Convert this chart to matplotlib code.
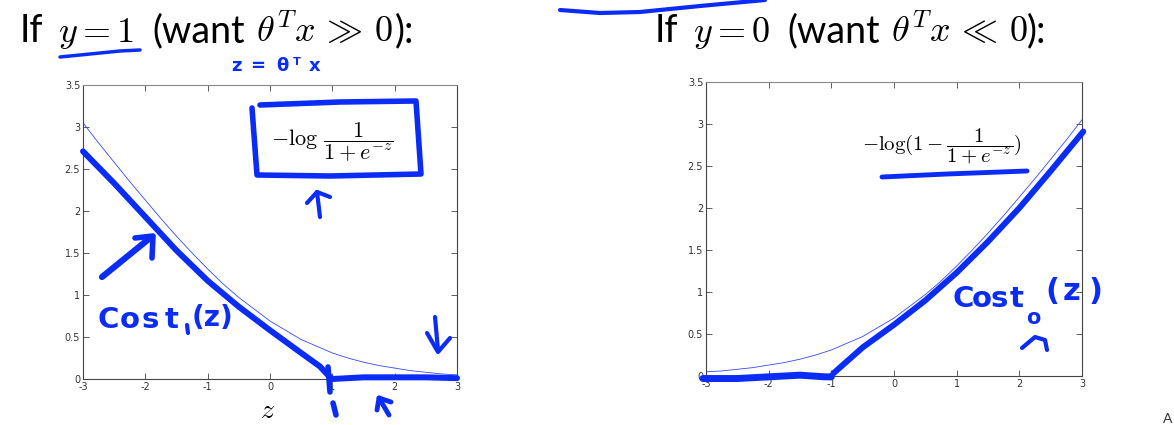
import matplotlib
matplotlib.use('Agg')
import matplotlib.pyplot as plt
import numpy as np

plt.rcParams['mathtext.fontset'] = 'cm'
plt.rcParams['font.family'] = ['Lato', 'DejaVu Sans']

# thin curves
z_thin = [-3, -2.75, -2.5, -2.25, -2, -1.75, -1.5, -1.25, -1, -0.75, -0.5, -0.25, 0,
          0.25, 0.5, 0.75, 1, 1.25, 1.5, 1.75, 2, 2.25, 2.5, 2.75, 3]
cost_y1_thin = [3.05, 2.81, 2.58, 2.35, 2.13, 1.91, 1.70, 1.50, 1.31, 1.13, 0.97, 0.83, 0.69,
                0.58, 0.47, 0.39, 0.31, 0.25, 0.20, 0.16, 0.13, 0.10, 0.08, 0.06, 0.05]
cost_y0_thin = [0.05, 0.06, 0.08, 0.10, 0.13, 0.16, 0.20, 0.25, 0.31, 0.39, 0.47, 0.58, 0.69,
                0.83, 0.97, 1.13, 1.31, 1.50, 1.70, 1.91, 2.13, 2.35, 2.58, 2.81, 3.05]

# hand-drawn cost1(z)
cost1_z = [-3, -2.5, -2, -1.5, -1, -0.5, 0, 0.5, 0.8, 0.9, 0.97, 1.0, 1.5, 2, 2.5, 3.0]
cost1_y = [2.71, 2.33, 1.93, 1.53, 1.17, 0.86, 0.58, 0.31, 0.15, 0.07, 0.02, 0.0, 0.02, 0.02, 0.02, 0.01]

# hand-drawn cost0(z): flat part and rising part
cost0_flat_z = [-3.05, -2.5, -2, -1.5, -1.1, -1.0]
cost0_flat_y = [-0.03, -0.03, -0.01, 0.01, -0.01, -0.01]
cost0_rise_z = [-0.97, -0.5, 0, 0.5, 1, 1.5, 2, 2.5, 3.02]
cost0_rise_y = [0.03, 0.34, 0.61, 0.90, 1.23, 1.60, 2.00, 2.44, 2.91]

xticks = [-3, -2, -1, 0, 1, 2, 3]
yticks = [0, 0.5, 1, 1.5, 2, 2.5, 3, 3.5]

pen = '#0b2cf5'
thin = '#3848ff'
W, H = 1174, 425

fig = plt.figure(figsize=(W / 100, H / 100), dpi=100)


def make_axes(rect):
    ax = fig.add_axes(rect)
    ax.set_xlim(-3, 3)
    ax.set_ylim(0, 3.5)
    ax.set_xticks(xticks)
    ax.set_yticks(yticks)
    ax.set_xticklabels(['%g' % t for t in xticks])
    ax.set_yticklabels(['%g' % t for t in yticks])
    ax.tick_params(direction='in', top=True, right=True, length=4, width=0.6,
                   labelsize=7, labelcolor='#333333', color='#444444', pad=2)
    for lab in ax.get_xticklabels() + ax.get_yticklabels():
        lab.set_family('DejaVu Sans')
    for s in ax.spines.values():
        s.set_color('#444444')
        s.set_linewidth(0.8)
    ax.spines['top'].set_color('#888888')
    return ax


ax1 = make_axes([83 / W, 1 - 379 / H, 374 / W, 294 / H])
ax2 = make_axes([706 / W, 1 - 376 / H, 376 / W, 294 / H])

ax1.plot(z_thin, cost_y1_thin, color=thin, lw=0.6)
ax1.plot(cost1_z, cost1_y, color=pen, lw=4.3, solid_capstyle='round', clip_on=False, zorder=5)
ax1.text(1.0, 2.82, r'$-\log\,\dfrac{1}{1+e^{-z}}$', fontsize=16, ha='center', va='center')

ax2.plot(z_thin, cost_y0_thin, color=thin, lw=0.6)
ax2.plot(cost0_flat_z, cost0_flat_y, color=pen, lw=5, solid_capstyle='round', clip_on=False, zorder=5)
ax2.plot(cost0_rise_z, cost0_rise_y, color=pen, lw=4.3, solid_capstyle='round', clip_on=False, zorder=5)
ax2.text(0.77, 2.74, r'$-\log(1-\dfrac{1}{1+e^{-z}})$', fontsize=15, ha='center', va='center')

# overlay in pixel coordinates for titles and handwriting
ov = fig.add_axes([0, 0, 1, 1], zorder=10)
ov.set_xlim(0, W)
ov.set_ylim(H, 0)
ov.axis('off')
ov.patch.set_alpha(0)


def title(x_parts, parts):
    for x, (s, fs) in zip(x_parts, parts):
        ov.text(x, 42, s, fontsize=fs, va='baseline', ha='left')


title([20, 58, 152, 256, 395],
      [('If', 27), (r'$y=1$', 26), ('(want', 27), (r'$\theta^T x\,\gg\,0$', 26), ('):', 27)])
title([655, 693, 787, 891, 1027],
      [('If', 27), (r'$y=0$', 26), ('(want', 27), (r'$\theta^T x\,\ll\,0$', 26), ('):', 27)])

ov.text(268, 410, r'$z$', fontsize=20, ha='center', va='center')
ov.text(1163, 423, 'A', fontsize=10, va='baseline', color='#333333')


def stroke(pts, lw=3.5):
    xs, ys = zip(*pts)
    ov.plot(xs, ys, color=pen, lw=lw, solid_capstyle='round', solid_joinstyle='round')


def hand(x, y, s, fs):
    ov.text(x, y, s, fontsize=fs, fontweight='bold', color=pen,
            ha='center', va='center', family='DejaVu Sans')


def hand_word(letters, xs, y, fs):
    for ch, x in zip(letters, xs):
        hand(x, y, ch, fs)


# left panel marks
stroke([(60, 57), (90, 54), (120, 51), (140, 50)], 2.5)
hand_word(['z', '=', 'θ', 'ᵀ', 'x'], [237, 258, 282, 297, 315], 66, 13)
stroke([(260, 105), (340, 102), (416, 101), (421, 174), (330, 176), (257, 175), (252, 108)], 4)
stroke([(320, 217), (317, 192)], 3)
stroke([(307, 203), (317, 192), (330, 197)], 3)
stroke([(102, 277), (150, 238)], 4.5)
stroke([(135, 238), (153, 236), (152, 258)], 4)
stroke([(435, 317), (438, 350)], 3)
stroke([(427, 333), (438, 352), (450, 338)], 3)
stroke([(328, 367), (330, 392)], 4)
stroke([(333, 403), (336, 415)], 4)
stroke([(377, 410), (379, 398), (391, 402)], 3.5)
stroke([(379, 398), (389, 415)], 3.5)
hand_word(['C', 'o', 's', 't'], [108, 130, 150, 172], 320, 21)
stroke([(187, 325), (188, 333)], 3)
hand(213, 318, '(z)', 20)

# right panel marks
stroke([(560, 10), (600, 13), (640, 12), (700, 6), (765, 0)], 3)
stroke([(882, 177), (947, 174), (1027, 171)], 3.5)
hand_word(['C', 'o', 's', 't'], [963, 982, 999, 1017], 299, 21)
hand(1033, 318, 'o', 15)
hand_word(['(', 'z', ')'], [1052, 1071, 1096], 292, 22)
stroke([(1022, 348), (1035, 337), (1045, 340), (1047, 350)], 3)

fig.savefig('out.png', dpi=100)
